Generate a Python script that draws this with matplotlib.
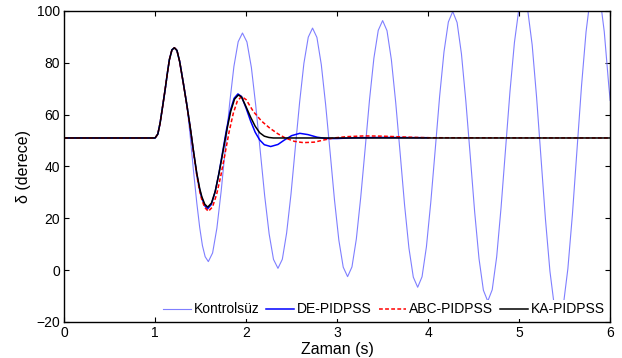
# Rotor açısı salınımları: kontrolsüz ve PIDPSS'li durumlar

import matplotlib
matplotlib.use("Agg")
import matplotlib.pyplot as plt
import numpy as np

plt.rcParams["font.family"] = ["Liberation Sans", "DejaVu Sans"]

# ortak kısım (arıza öncesi ve ilk salınım)
t_ortak = [0.0, 1.0, 1.03, 1.055, 1.08, 1.11, 1.135, 1.157, 1.185, 1.212,
           1.24, 1.27, 1.31, 1.35]
d_ortak = [51.0, 51.0, 52.5, 56.7, 62.5, 69.6, 76.0, 81.2, 85.0, 85.8,
           84.8, 80.5, 72.2, 63.5]

# Kontrolsüz
t_kontrolsuz = [1.385, 1.42, 1.458, 1.49, 1.52, 1.55,
                1.585, 1.632, 1.679, 1.726, 1.773, 1.819, 1.866, 1.913, 1.96,
                2.009, 2.058, 2.106, 2.155, 2.204, 2.253, 2.301, 2.35,
                2.398, 2.445, 2.493, 2.54, 2.588, 2.635, 2.683, 2.73,
                2.778, 2.826, 2.874, 2.923, 2.971, 3.019, 3.067, 3.115,
                3.163, 3.211, 3.259, 3.308, 3.356, 3.404, 3.452, 3.50,
                3.548, 3.596, 3.644, 3.693, 3.741, 3.789, 3.837, 3.885,
                3.933, 3.981, 4.029, 4.078, 4.126, 4.174, 4.222, 4.27,
                4.318, 4.366, 4.414, 4.463, 4.511, 4.559, 4.607, 4.655,
                4.704, 4.753, 4.801, 4.85, 4.899, 4.948, 4.996, 5.045,
                5.094, 5.143, 5.191, 5.24, 5.289, 5.338, 5.386, 5.435,
                5.485, 5.535, 5.585, 5.635, 5.685, 5.735, 5.785, 5.835,
                5.885, 5.935, 5.985, 6.0]
d_kontrolsuz = [52.0, 39.0, 26.0, 16.5, 9.5, 5.2,
                3.3, 6.65, 16.2, 30.5, 47.4, 64.3, 78.6, 88.15, 91.5,
                88.05, 78.2, 63.5, 46.1, 28.7, 14.0, 4.15, 0.7,
                4.2, 14.3, 29.3, 47.05, 64.8, 79.8, 89.9, 93.4,
                89.8, 79.35, 63.8, 45.45, 27.1, 11.55, 1.15, -2.5,
                1.25, 12.0, 28.0, 46.9, 65.8, 81.8, 92.55, 96.3,
                92.4, 81.2, 64.55, 44.85, 25.15, 8.5, -2.7, -6.6,
                -2.55, 9.0, 26.2, 46.6, 67.0, 84.2, 95.75, 99.8,
                95.55, 83.4, 65.3, 43.9, 22.5, 4.4, -7.75, -12.0,
                -7.55, 5.15, 24.1, 46.5, 68.9, 87.85, 100.55, 105.0,
                100.3, 86.9, 66.9, 43.25, 19.6, -0.4, -13.8, -18.5,
                -13.6, 0.5, 21.45, 46.25, 71.05, 92.0, 106.1, 111.0,
                106.0, 92.0, 71.0, 65.5]

# DE-PIDPSS
t_de = [1.385, 1.42, 1.458, 1.49, 1.513, 1.545, 1.575, 1.617, 1.659, 1.701,
        1.743, 1.785, 1.826, 1.868, 1.91, 1.95, 2.0, 2.05, 2.10, 2.15, 2.2,
        2.27, 2.35, 2.42, 2.5, 2.59, 2.68, 2.78, 2.88, 3.0, 3.2, 3.5, 4.0]
d_de = [55.3, 46.2, 37.0, 31.0, 27.9, 24.9, 23.6, 25.3, 30.1, 37.3,
        45.8, 54.3, 61.5, 66.3, 68.0, 67.0, 62.5, 57.5, 53.2, 50.2, 48.4,
        47.7, 48.5, 50.2, 51.9, 52.8, 52.3, 51.3, 50.8, 50.8, 51.1, 51.2, 51.1]

# ABC-PIDPSS
t_abc = [1.385, 1.42, 1.458, 1.49, 1.513, 1.545, 1.585, 1.631, 1.676, 1.722,
         1.768, 1.813, 1.859, 1.904, 1.95, 2.0, 2.08, 2.17, 2.26, 2.35, 2.43,
         2.53, 2.63, 2.75, 2.85, 2.96, 3.1, 3.3, 3.5, 3.8, 4.0, 6.0]
d_abc = [55.2, 46.0, 36.6, 30.4, 27.2, 24.2, 22.7, 24.4, 29.2, 36.4,
         44.85, 53.3, 60.5, 65.3, 67.0, 65.8, 61.2, 57.5, 54.8, 52.6, 51.0,
         49.7, 49.2, 49.4, 50.2, 51.0, 51.5, 51.8, 51.7, 51.3, 51.1, 51.0]

# KA-PIDPSS
t_ka = [1.385, 1.42, 1.458, 1.49, 1.513, 1.545, 1.578, 1.62, 1.662, 1.704,
        1.747, 1.789, 1.831, 1.873, 1.915, 1.95, 2.0, 2.05, 2.10, 2.15, 2.2,
        2.25, 2.3, 6.0]
d_ka = [55.4, 46.5, 37.4, 31.5, 28.4, 25.5, 24.3, 25.9, 30.6, 37.7,
        45.95, 54.2, 61.3, 66.0, 67.6, 66.8, 63.0, 59.0, 55.5, 53.0, 51.7,
        51.2, 51.0, 51.0]

x_ticks = [0, 1, 2, 3, 4, 5, 6]
y_ticks = [-20, 0, 20, 40, 60, 80, 100]

fig = plt.figure(figsize=(6.22, 3.58), dpi=100)
ax = fig.add_axes([0.103, 0.1006, 0.878, 0.8687])

ax.plot(t_ortak + t_kontrolsuz, d_ortak + d_kontrolsuz, color="#7f7fff",
        lw=0.8, label="Kontrolsüz")
ax.plot(t_ortak + t_de, d_ortak + d_de, color="blue", lw=1.1,
        label="DE-PIDPSS")
ax.plot(t_ortak + t_abc, d_ortak + d_abc, color="red", lw=1.1, ls=(0, (2.5, 1.5)),
        label="ABC-PIDPSS")
ax.plot(t_ortak + t_ka, d_ortak + d_ka, color="black", lw=1.1,
        label="KA-PIDPSS")

ax.set_xlim(0, 6)
ax.set_ylim(-20, 100)
ax.set_xticks(x_ticks)
ax.set_yticks(y_ticks)
ax.tick_params(direction="in", top=True, right=True, length=3.5, width=0.8,
               labelsize=10, pad=3, colors="black")
for s in ax.spines.values():
    s.set_linewidth(1.0)

ax.set_xlabel("Zaman (s)", fontsize=11.5, labelpad=1)
ax.set_ylabel("δ (derece)", fontsize=11.5, labelpad=4)

leg = ax.legend(loc="lower right", ncol=4, fontsize=10, handlelength=2.0,
                handletextpad=0.2, columnspacing=0.5, borderpad=0.2,
                borderaxespad=0.2, fancybox=False, framealpha=1.0)
leg.get_frame().set_edgecolor("white")
leg.get_frame().set_linewidth(0)

fig.savefig("out.png", dpi=100)
